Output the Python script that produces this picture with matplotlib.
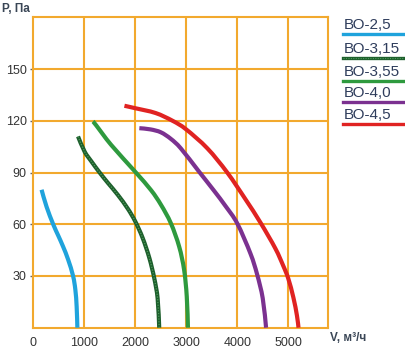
import matplotlib
matplotlib.use("Agg")
import matplotlib.pyplot as plt
from matplotlib.lines import Line2D
from matplotlib.path import Path
from matplotlib.patches import PathPatch

plt.rcParams['font.family'] = ['Liberation Sans', 'DejaVu Sans']

# ---- data ----
names = ["ВО-2,5", "ВО-3,15", "ВО-3,55", "ВО-4,0", "ВО-4,5"]
colors = ["#1fa3dc", "#1d5f2c", "#2e9a3e", "#7b3190", "#e02322"]

v_25 = [168, 265, 395, 493, 590, 688, 785, 830, 855, 869]
p_25 = [80, 70.2, 60, 53.5, 47, 39.5, 30, 21.9, 12.2, 0]

v_315 = [882, 1011, 1142, 1304, 1466, 1662, 1857, 2005, 2148, 2278, 2375, 2441, 2472]
p_315 = [110.9, 102.1, 96.5, 90, 84, 77, 69, 61.5, 52, 40.5, 28.7, 17, 0]

v_355 = [1174, 1239, 1531, 2000, 2311, 2506, 2700, 2863, 2960, 3012, 3035]
p_355 = [119.6, 117.3, 106, 90.5, 79.8, 71.3, 60.6, 47, 33.5, 18, 0]

v_40 = [2083, 2300, 2505, 2700, 2895, 3252, 3544, 3772, 4000, 4259, 4389, 4500, 4565]
p_40 = [115.7, 115, 113.3, 109.5, 104, 90.5, 79.5, 70.5, 60.5, 43, 31, 17, 0]

v_45 = [1791, 2000, 2400, 2733, 3000, 3415, 3804, 4161, 4454, 4746, 4900, 5000, 5100, 5170, 5200]
p_45 = [128.7, 127.3, 124.5, 120, 115, 104, 90, 74.5, 61, 46, 36, 28.5, 17.5, 7, 0]

series_v = [v_25, v_315, v_355, v_40, v_45]
series_p = [p_25, p_315, p_355, p_40, p_45]

x_ticks = [0, 1000, 2000, 3000, 4000, 5000]
x_ticklabels = ["0", "1000", "2000", "3000", "4000", "5000"]
y_ticks = [30, 60, 90, 120, 150]
y_ticklabels = ["30", "60", "90", "120", "150"]

grid_c = "#f2a92e"
text_c = "#333333"
label_c = "#3a4656"
legend_text_c = "#2f3d5c"


def smooth_path(xs, ys):
    """Catmull-Rom curve through the read points, as cubic Bezier segments."""
    pts = list(zip(xs, ys))
    n = len(pts)
    verts = [pts[0]]
    codes = [Path.MOVETO]
    for i in range(n - 1):
        p0 = pts[i - 1] if i > 0 else pts[i]
        p1 = pts[i]
        p2 = pts[i + 1]
        p3 = pts[i + 2] if i + 2 < n else pts[i + 1]
        c1 = (p1[0] + (p2[0] - p0[0]) / 6, p1[1] + (p2[1] - p0[1]) / 6)
        c2 = (p2[0] - (p3[0] - p1[0]) / 6, p2[1] - (p3[1] - p1[1]) / 6)
        verts += [c1, c2, p2]
        codes += [Path.CURVE4] * 3
    return Path(verts, codes)


fig = plt.figure(figsize=(4.05, 3.5), dpi=100)
ax = fig.add_axes([33/405, 1-327.7/350, (328-33)/405, (327.7-17.3)/350])
ax.set_xlim(31, 5778)
ax.set_ylim(0, 180)

for x in x_ticks[1:]:
    ax.axvline(x, color=grid_c, lw=1.5, zorder=1)
for y in y_ticks:
    ax.axhline(y, color=grid_c, lw=1.5, zorder=1)
for s in ax.spines.values():
    s.set_color(grid_c)
    s.set_linewidth(1.5)

for i, (v, p, c) in enumerate(zip(series_v, series_p, colors)):
    path = smooth_path(v, p)
    ax.add_patch(PathPatch(path, facecolor='none', edgecolor=c, lw=3.0,
                           capstyle='butt', joinstyle='round', zorder=3))
    if i == 1:
        ax.add_patch(PathPatch(path, facecolor='none', edgecolor='#4f9a5c', lw=0.9,
                               linestyle=(0, (1, 1.2)), zorder=4))

ax.set_xticks(x_ticks)
ax.set_xticklabels(x_ticklabels)
ax.set_yticks(y_ticks)
ax.set_yticklabels(y_ticklabels)
ax.tick_params(axis='x', length=0, pad=7, labelsize=9, labelcolor=text_c)
ax.tick_params(axis='y', length=2, width=1, color="#666666", pad=2.5, labelsize=9, labelcolor=text_c)

fig.text(2/405, 1-9/350, "P, Па", fontsize=8.5, fontweight='bold', color=label_c, va='center', ha='left')
fig.text(330/405, 1-338/350, "V, м³/ч", fontsize=8.5, fontweight='bold', color=label_c, va='center', ha='left')

# legend
line_y = [34.3, 57.7, 81, 102, 124]
for i, (name, c, ly) in enumerate(zip(names, colors, line_y)):
    fig.text(344/405, 1-(ly-9)/350, name, fontsize=11, color=legend_text_c, va='center', ha='left')
    fig.add_artist(Line2D([343/405, 403/405], [1-ly/350, 1-ly/350], color=c, lw=2.4,
                          transform=fig.transFigure))
    if i == 1:
        fig.add_artist(Line2D([343/405, 403/405], [1-ly/350, 1-ly/350], color='#4f9a5c', lw=0.8,
                              linestyle=(0, (1, 1.2)), transform=fig.transFigure))

fig.savefig("out.png", dpi=100)
